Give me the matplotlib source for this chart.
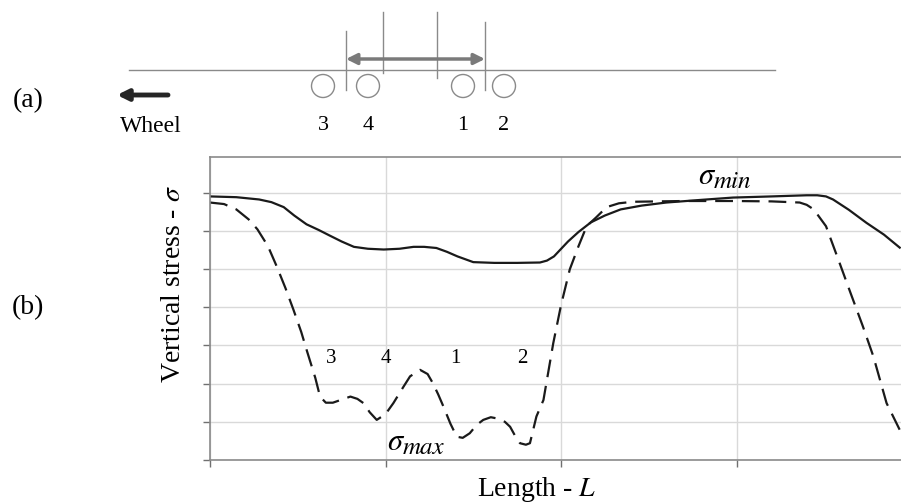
import matplotlib.pyplot as plt
from matplotlib.patches import Circle

plt.rcParams['font.family'] = ['Liberation Serif', 'DejaVu Serif']
plt.rcParams['mathtext.fontset'] = 'stix'

# stress curves (x in grid units of length, y in grid units of stress)
L_min = [0, 0.15, 0.28, 0.35, 0.42, 0.48, 0.55, 0.62, 0.68, 0.75, 0.82, 0.90, 0.99,
         1.08, 1.16, 1.22, 1.29, 1.35, 1.41, 1.50, 1.62, 1.75, 1.88, 1.92, 1.96,
         2.04, 2.10, 2.17, 2.25, 2.34, 2.46, 2.60, 2.80, 2.98, 3.20, 3.40, 3.46,
         3.51, 3.55, 3.64, 3.74, 3.84, 3.93]
s_min = [6.90, 6.88, 6.82, 6.75, 6.62, 6.40, 6.17, 6.02, 5.88, 5.72, 5.58, 5.53, 5.51,
         5.53, 5.58, 5.58, 5.55, 5.45, 5.33, 5.18, 5.16, 5.16, 5.17, 5.22, 5.33,
         5.72, 5.97, 6.22, 6.40, 6.56, 6.66, 6.74, 6.81, 6.87, 6.90, 6.93, 6.93,
         6.90, 6.82, 6.55, 6.21, 5.90, 5.56]

L_max = [0, 0.08, 0.15, 0.22, 0.27, 0.33, 0.38, 0.43, 0.475, 0.52, 0.55, 0.60, 0.627,
         0.66, 0.70, 0.75, 0.80, 0.84, 0.874, 0.91, 0.95, 1.00, 1.045, 1.10, 1.14,
         1.197, 1.24, 1.27, 1.30, 1.33, 1.37, 1.406, 1.44, 1.48, 1.52, 1.557, 1.60,
         1.633, 1.68, 1.71, 1.74, 1.766, 1.80, 1.823, 1.86, 1.90, 1.956, 2.00, 2.05,
         2.10, 2.146, 2.20, 2.26, 2.33, 2.41, 2.70, 2.98, 3.20, 3.36, 3.40, 3.44,
         3.51, 3.58, 3.65, 3.72, 3.78, 3.855, 3.93]
s_max = [6.74, 6.70, 6.56, 6.30, 6.04, 5.60, 5.07, 4.50, 3.94, 3.35, 2.89, 2.15, 1.66,
         1.50, 1.50, 1.58, 1.66, 1.60, 1.49, 1.25, 1.05, 1.20, 1.49, 1.90, 2.19,
         2.36, 2.25, 2.01, 1.72, 1.40, 0.95, 0.61, 0.58, 0.70, 0.92, 1.05, 1.12,
         1.09, 1.00, 0.87, 0.62, 0.44, 0.40, 0.44, 1.14, 1.57, 3.06, 4.05, 4.99,
         5.60, 6.12, 6.35, 6.62, 6.72, 6.76, 6.78, 6.78, 6.77, 6.74, 6.68, 6.56,
         6.12, 5.25, 4.37, 3.50, 2.71, 1.49, 0.79]

# point labels inside the plot (wheel order)
wheel_labels = ['3', '4', '1', '2']
wheel_L = [0.69, 1.0, 1.40, 1.78]

# top sketch, positioned in picture pixels
wheel_px = [323, 368, 463, 504]
gear_px = [346, 383, 437, 485]
gear_top = [31, 12, 12, 22]
gear_bot = [90, 73, 78, 90]

fig = plt.figure(figsize=(9.01, 5.04), dpi=100)

# ---- (a) schematic ----
top = fig.add_axes([0, 0, 1, 1])
top.set_xlim(0, 901)
top.set_ylim(504, 0)
top.axis('off')
grey = '#8a8a8a'
top.plot([129, 775], [70, 70], color=grey, lw=1)
for x in wheel_px:
    top.add_patch(Circle((x, 86), 11.5, fill=False, ec=grey, lw=1))
for x, y0, y1 in zip(gear_px, gear_top, gear_bot):
    top.plot([x, x], [y0, y1], color=grey, lw=1)
top.annotate('', xy=(485, 59), xytext=(346, 59),
             arrowprops=dict(arrowstyle='<|-|>', color='#7a7a7a', lw=2.5, mutation_scale=16,
                             shrinkA=0, shrinkB=0))
top.annotate('', xy=(117, 95), xytext=(168, 95),
             arrowprops=dict(arrowstyle='-|>', color='#262626', lw=3.5, mutation_scale=16,
                             shrinkA=0, shrinkB=0))
top.text(151, 126, 'Wheel', fontsize=17, ha='center', va='center')
for lab, x in zip(wheel_labels, wheel_px):
    top.text(x, 125, lab, fontsize=16, ha='center', va='center')
top.text(28, 101, '(a)', fontsize=20, ha='center', va='center')
top.text(28, 308, '(b)', fontsize=20, ha='center', va='center')

# ---- (b) stress plot ----
ax = fig.add_axes([210 / 901, 44 / 504, 691 / 901, 303 / 504])
ax.plot(L_min, s_min, color='#1a1a1a', lw=1.6)
ax.plot(L_max, s_max, color='#1a1a1a', lw=1.6, dashes=(8, 4))
ax.set_xlim(0, 691 / 175.5)
ax.set_ylim(0, 303 / 38.2)
ax.set_xticks([0, 1, 2, 3])
ax.set_yticks(range(8))
ax.set_xticklabels([])
ax.set_yticklabels([])
ax.tick_params(length=5, color='#707070', width=1)
ax.grid(True, color='#d9d9d9', lw=1)
ax.set_axisbelow(True)
for side in ['left', 'bottom', 'top']:
    ax.spines[side].set_color('#8a8a8a')
    ax.spines[side].set_linewidth(1.2)
ax.spines['right'].set_visible(False)

for lab, x in zip(wheel_labels, wheel_L):
    ax.text(x, 2.67, lab, fontsize=15, ha='center', va='center')

# sigma labels: symbol plus a larger-than-mathtext italic subscript
ax.text(1.008, 0.26, r'$\sigma$', fontsize=22, ha='left', va='baseline')
ax.text(1.10, 0.15, 'max', fontsize=18, family='STIXGeneral', style='italic',
        ha='left', va='baseline')
ax.text(2.78, 7.23, r'$\sigma$', fontsize=22, ha='left', va='baseline')
ax.text(2.872, 7.12, 'min', fontsize=18, family='STIXGeneral', style='italic',
        ha='left', va='baseline')

fig.text(173 / 901, 1 - 284 / 504, r'Vertical stress - $\sigma$', fontsize=20,
         rotation=90, ha='center', va='center')
fig.text(537 / 901, 1 - 489 / 504, r'Length - $L$', fontsize=20, ha='center', va='center')

fig.savefig('out.png', dpi=100)
